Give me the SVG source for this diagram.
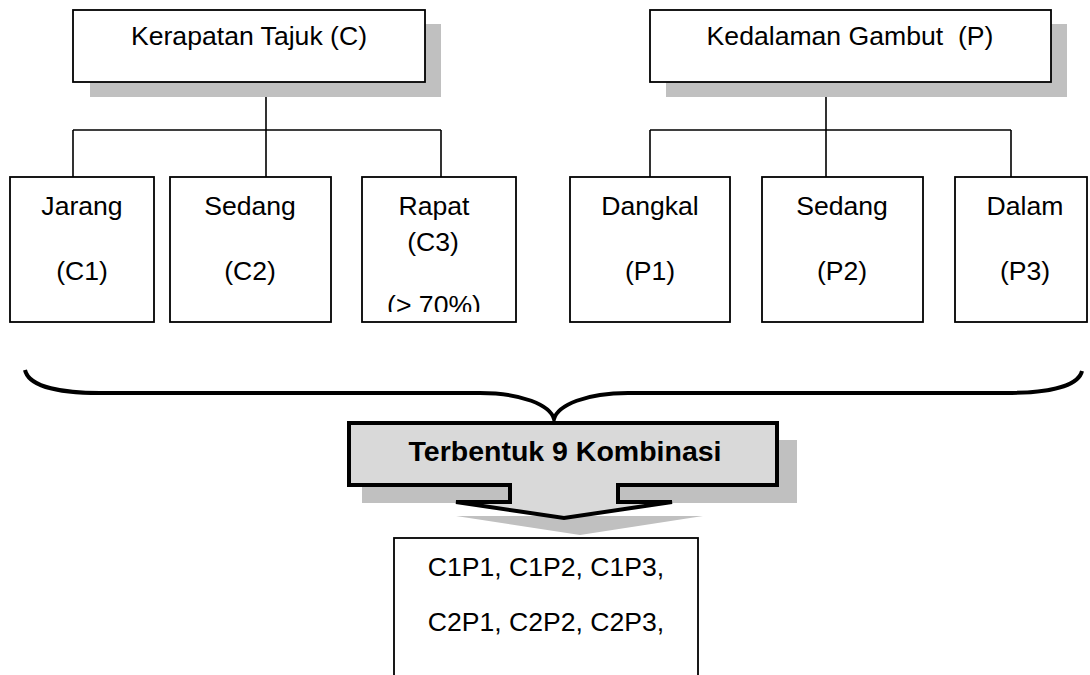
<svg xmlns="http://www.w3.org/2000/svg" width="1090" height="675" viewBox="0 0 1090 675">
<style>
.box{fill:#fff;stroke:#000;stroke-width:1.8}
.shadow{fill:#c0c0c0}
.t{font-family:"Liberation Sans",Arial,sans-serif;font-size:26.6px;fill:#000;text-anchor:middle}
.tb{font-family:"Liberation Sans",Arial,sans-serif;font-size:28.5px;font-weight:bold;fill:#000;text-anchor:middle}
.ln{fill:none;stroke:#000;stroke-width:1.6}
.brace{fill:none;stroke:#000;stroke-width:4;stroke-linecap:butt}
</style>
<defs>
<clipPath id="clipC3"><rect x="362" y="177" width="154" height="135"/></clipPath>
</defs>
<rect width="1090" height="675" fill="#fff"/>

<g id="connectors">
<path class="ln" d="M266,82 V130 M73,130 H441 M73,130 V177 M266,130 V177 M441,130 V177"/>
<path class="ln" d="M826,82 V130 M650,130 H1011 M650,130 V177 M826,130 V177 M1011,130 V177"/>
<path class="brace" d="M25,370 C29,388 65,393 100,393 H480 C522,393 550,405 554,419 C558,405 586,393 628,393 H1005 C1042,393 1078,388 1082,371"/>
</g>

<g id="node-kerapatan">
<rect class="shadow" x="90" y="24" width="351" height="73"/>
<rect class="box" x="73" y="10" width="352" height="72"/>
<text class="t" x="249" y="45">Kerapatan Tajuk (C)</text>
</g>

<g id="node-kedalaman">
<rect class="shadow" x="666" y="24" width="401" height="73"/>
<rect class="box" x="650" y="10" width="401" height="72"/>
<text class="t" x="850" y="45" xml:space="preserve">Kedalaman Gambut  (P)</text>
</g>

<g id="node-c1">
<rect class="box" x="10" y="177" width="144" height="145"/>
<text class="t" x="82" y="215">Jarang</text>
<text class="t" x="82" y="280">(C1)</text>
</g>

<g id="node-c2">
<rect class="box" x="170" y="177" width="161" height="145"/>
<text class="t" x="250" y="215">Sedang</text>
<text class="t" x="250" y="280">(C2)</text>
</g>

<g id="node-c3">
<rect class="box" x="362" y="177" width="154" height="145"/>
<text class="t" x="434" y="215">Rapat</text>
<text class="t" x="433" y="251">(C3)</text>
<text class="t" x="434" y="314" clip-path="url(#clipC3)">(&gt; 70%)</text>
</g>

<g id="node-p1">
<rect class="box" x="570" y="177" width="160" height="145"/>
<text class="t" x="650" y="215">Dangkal</text>
<text class="t" x="650" y="280">(P1)</text>
</g>

<g id="node-p2">
<rect class="box" x="762" y="177" width="161" height="145"/>
<text class="t" x="842" y="215">Sedang</text>
<text class="t" x="842" y="280">(P2)</text>
</g>

<g id="node-p3">
<rect class="box" x="955" y="177" width="132" height="145"/>
<text class="t" x="1025" y="215">Dalam</text>
<text class="t" x="1025" y="280">(P3)</text>
</g>

<g id="node-kombinasi">
<rect class="shadow" x="362" y="440" width="435" height="63"/>
<polygon class="shadow" points="456,516 703,516 580,535"/>
<path d="M349,423 H777 V485 H618 V502 H672 L564,518 L456,502 H510 V485 H349 Z" fill="#d9d9d9" stroke="#000" stroke-width="4" stroke-linejoin="miter"/>
<text class="tb" x="565" y="461">Terbentuk 9 Kombinasi</text>
</g>

<g id="node-hasil">
<rect class="box" x="394" y="538" width="304" height="150"/>
<text class="t" x="546" y="576">C1P1, C1P2, C1P3,</text>
<text class="t" x="546" y="631">C2P1, C2P2, C2P3,</text>
</g>
</svg>
